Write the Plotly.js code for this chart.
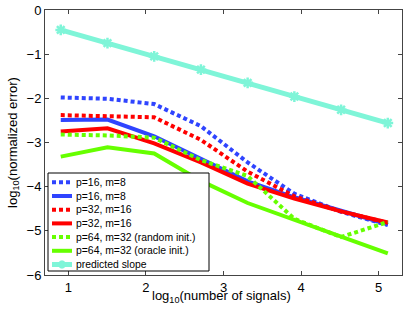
<!DOCTYPE html>
<html>
<head>
<meta charset="utf-8">
<script src="https://cdn.plot.ly/plotly-3.0.1.min.js"></script>
<style>html,body{margin:0;padding:0;background:#fff;}#chart{width:407px;height:311px;}</style>
</head>
<body>
<div id="chart"></div>
<script>
// log10(number of signals)
const xVals = [0.903, 1.505, 2.107, 2.709, 3.311, 3.913, 4.515, 5.117];

const seriesNames = [
  'p=16, m=8',
  'p=16, m=8',
  'p=32, m=16',
  'p=32, m=16',
  'p=64, m=32 (random init.)',
  'p=64, m=32 (oracle init.)',
  'predicted slope'
];

const p16m8Random  = [-1.98, -2.01, -2.13, -2.63, -3.45, -4.16, -4.57, -4.87];
const p16m8Oracle  = [-2.49, -2.48, -2.86, -3.37, -3.88, -4.24, -4.55, -4.85];
const p32m16Random = [-2.38, -2.40, -2.43, -2.94, -3.66, -4.22, -4.56, -4.82];
const p32m16Oracle = [-2.75, -2.68, -3.02, -3.45, -3.93, -4.27, -4.56, -4.81];
const p64m32Random = [-2.82, -2.84, -2.89, -3.40, -3.76, -4.73, -5.14, -4.80];
const p64m32Oracle = [-3.32, -3.11, -3.25, -3.87, -4.37, -4.74, -5.13, -5.51];
const predicted    = [-0.45, -0.75, -1.05, -1.35, -1.65, -1.96, -2.26, -2.56];

const xTicks = [1, 2, 3, 4, 5];
const yTicks = [0, -1, -2, -3, -4, -5, -6];

const blue = '#2f44ff', red = '#ff0000', green = '#66ff00', cyan = '#7ff5d8';
const dotted = '4px,3px';
const FONT = 'Liberation Sans, Arial, sans-serif';

const styles = [
  {color: blue, dash: dotted, width: 4},
  {color: blue, dash: 'solid', width: 4},
  {color: red, dash: dotted, width: 4},
  {color: red, dash: 'solid', width: 4},
  {color: green, dash: dotted, width: 4},
  {color: green, dash: 'solid', width: 4},
  {color: cyan, dash: 'solid', width: 5}
];
const seriesY = [p16m8Random, p16m8Oracle, p32m16Random, p32m16Oracle, p64m32Random, p64m32Oracle, predicted];

const data = seriesY.map((y, i) => {
  const t = {
    x: xVals, y: y, name: seriesNames[i], type: 'scatter', mode: 'lines',
    line: {color: styles[i].color, width: styles[i].width, dash: styles[i].dash},
    showlegend: false
  };
  if (i === 6) {
    t.mode = 'lines+markers';
    t.marker = {symbol: 'asterisk-open', size: 9, color: cyan, line: {color: cyan, width: 2.5}};
  }
  return t;
});

// plot area in pixels
const L = 45, R = 402, T = 10, B = 275;
const px = v => (v - L) / (R - L);
const py = v => (B - v) / (B - T);

// custom legend (box + glyphs + labels), built from seriesNames/styles
const shapes = [{
  type: 'rect', xref: 'paper', yref: 'paper',
  x0: px(48), x1: px(209), y0: py(271), y1: py(173),
  fillcolor: '#fff', line: {color: '#000', width: 1}, layer: 'above'
}];
const annotations = [];
const legY0 = 182.3, legDy = 13.7;
seriesNames.forEach((n, i) => {
  const yy = legY0 + i * legDy;
  shapes.push({
    type: 'line', xref: 'paper', yref: 'paper', layer: 'above',
    x0: px(52), x1: px(72), y0: py(yy), y1: py(yy),
    line: {color: styles[i].color, width: styles[i].width, dash: styles[i].dash}
  });
  annotations.push({
    xref: 'paper', yref: 'paper', x: px(74), y: py(yy), xanchor: 'left', yanchor: 'middle',
    text: n, showarrow: false, font: {family: FONT, size: 10.4, color: '#000'}
  });
});
// asterisk glyph on the predicted-slope legend entry
{
  const cx = 62, cy = legY0 + 6 * legDy, r = 4;
  [[r, 0], [r * 0.5, r * 0.87], [-r * 0.5, r * 0.87], [0, r]].forEach(([dx, dy]) => {
    shapes.push({
      type: 'line', xref: 'paper', yref: 'paper', layer: 'above',
      x0: px(cx - dx), x1: px(cx + dx), y0: py(cy - dy), y1: py(cy + dy),
      line: {color: cyan, width: 2.5}
    });
  });
}
// x-axis title
annotations.push({
  xref: 'paper', yref: 'paper', x: px(221), y: py(296), xanchor: 'center', yanchor: 'middle',
  text: 'log<sub>10</sub>(number of signals)', showarrow: false,
  font: {family: FONT, size: 13, color: '#000'}
});

const axisCommon = {
  showgrid: false, zeroline: false, showline: true, mirror: 'ticks',
  linecolor: '#444', linewidth: 1, ticks: 'inside', ticklen: 4, tickcolor: '#444',
  tickfont: {family: FONT, size: 13, color: '#000'}
};

const layout = {
  width: 407, height: 311,
  margin: {l: 45, r: 5, t: 10, b: 36},
  paper_bgcolor: '#fff', plot_bgcolor: '#fff',
  font: {family: FONT, color: '#000'},
  xaxis: Object.assign({}, axisCommon, {
    range: [0.7, 5.3], tickvals: xTicks, ticktext: xTicks.map(String)
  }),
  yaxis: Object.assign({}, axisCommon, {
    range: [-6, 0], tickvals: yTicks,
    title: {text: 'log<sub>10</sub>(normalized error)', font: {size: 13}, standoff: 6}
  }),
  showlegend: false,
  shapes: shapes,
  annotations: annotations
};

Plotly.newPlot('chart', data, layout, {staticPlot: true});
</script>
</body>
</html>
